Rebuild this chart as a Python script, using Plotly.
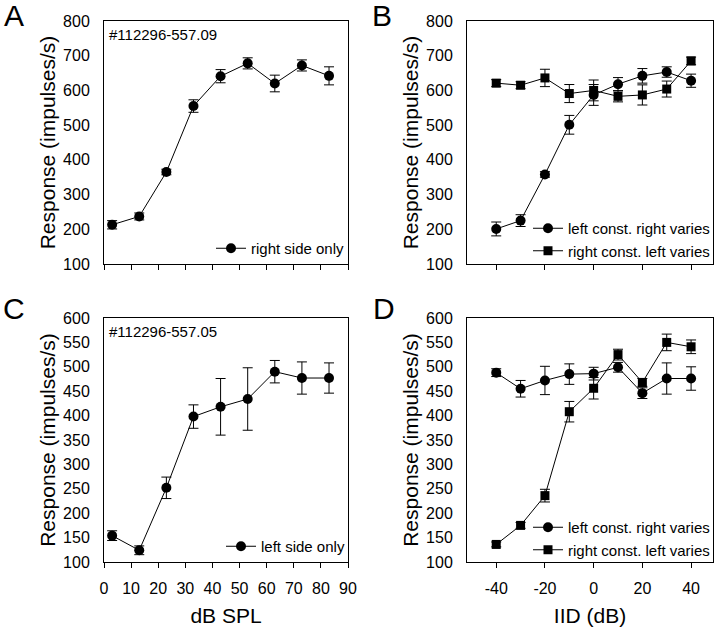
import plotly.graph_objects as go

# ---------------- data ----------------
spl = [3, 13, 23, 33, 43, 53, 63, 73, 83]
a_right_only = [213, 237, 365, 555, 641, 678, 620, 672, 642]
a_right_only_err = [12, 10, 8, 18, 19, 16, 24, 16, 26]

c_left_only = [154, 124, 252, 398, 418, 434, 490, 477, 477]
c_left_only_err = [10, 9, 22, 24, 58, 64, 23, 33, 31]

iid = [-40, -30, -20, -10, 0, 10, 20, 30, 40]
b_left_const = [201, 225, 358, 501, 587, 618, 642, 653, 628]
b_left_const_err = [20, 17, 8, 27, 30, 19, 21, 15, 19]
b_right_const = [621, 615, 636, 591, 600, 583, 587, 604, 685]
b_right_const_err = [10, 10, 25, 26, 30, 16, 29, 23, 11]

d_left_const = [488, 455, 472, 485, 486, 499, 446, 476, 476]
d_left_const_err = [8, 17, 29, 21, 13, 10, 11, 32, 24]
d_right_const = [136, 175, 236, 408, 456, 525, 468, 550, 541]
d_right_const_err = [5, 6, 13, 21, 22, 11, 8, 17, 14]

iid_ticks = [-40, -20, 0, 20, 40]
iid_ticktext = ["-40", "-20", "0", "20", "40"]

unit_a = "#112296-557.09"
unit_c = "#112296-557.05"
ytitle = "Response (impulses/s)"

# ---------------- figure ----------------
W, H = 720, 627
FONT = "Liberation Sans, Arial, sans-serif"

def px_x(p):
    return p / W

def px_y(p):
    return 1 - p / H

fig = go.Figure()

def add(x, y, err, name, symbol, xa, ya, legend):
    fig.add_trace(go.Scatter(
        x=x, y=y, name=name, mode="lines+markers",
        xaxis=xa, yaxis=ya, legend=legend,
        line=dict(color="black", width=1),
        marker=dict(symbol=symbol, size=10 if symbol == "circle" else 9, color="black"),
        error_y=dict(type="data", array=err, visible=True, color="black",
                     thickness=1, width=5),
    ))

add(spl, a_right_only, a_right_only_err, "right side only", "circle", "x", "y", "legend")
add(iid, b_left_const, b_left_const_err, "left const. right varies", "circle", "x2", "y2", "legend2")
add(iid, b_right_const, b_right_const_err, "right const. left varies", "square", "x2", "y2", "legend2")
add(spl, c_left_only, c_left_only_err, "left side only", "circle", "x3", "y3", "legend3")
add(iid, d_left_const, d_left_const_err, "left const. right varies", "circle", "x4", "y4", "legend4")
add(iid, d_right_const, d_right_const_err, "right const. left varies", "square", "x4", "y4", "legend4")

top_dom = [px_y(264), px_y(21)]
bot_dom = [px_y(562), px_y(318)]
left_dom = [px_x(104), px_x(348)]
right_dom = [px_x(467), px_x(713)]

def xaxis(dom, rng, anchor, labels, title=None, iidaxis=False):
    d = dict(domain=dom, range=rng, anchor=anchor, automargin=False,
             showline=True, mirror=True, linecolor="black", linewidth=1,
             ticks="outside", ticklen=5, tickcolor="black", tickwidth=1,
             showgrid=False, zeroline=False, showticklabels=labels,
             ticklabelstandoff=7,
             tickfont=dict(family=FONT, size=16, color="black"))
    if iidaxis:
        d.update(tickmode="array", tickvals=iid_ticks, ticktext=iid_ticktext)
    else:
        d.update(dtick=10, tick0=0)
    if title:
        d["title"] = dict(text=title, font=dict(family=FONT, size=21, color="black"), standoff=18)
    return d

def yaxis(dom, rng, dtick, anchor):
    return dict(domain=dom, range=rng, dtick=dtick, anchor=anchor, automargin=False,
                showline=True, mirror=True, linecolor="black", linewidth=1,
                ticks="", showgrid=False, zeroline=False,
                ticklabelstandoff=10,
                tickfont=dict(family=FONT, size=16, color="black"),
                title=dict(text=ytitle, font=dict(family=FONT, size=21, color="black"), standoff=1))

leg_common = dict(bgcolor="rgba(0,0,0,0)", borderwidth=0,
                  font=dict(family=FONT, size=15, color="black"),
                  xanchor="right", yanchor="bottom", tracegroupgap=0,
                  itemclick=False, itemdoubleclick=False)

fig.update_layout(
    width=W, height=H,
    margin=dict(l=0, r=0, t=0, b=0, autoexpand=False),
    paper_bgcolor="white", plot_bgcolor="white",
    font=dict(family=FONT, color="black"),
    showlegend=True,
    xaxis=xaxis(left_dom, [0, 90], "y", False),
    yaxis=yaxis(top_dom, [100, 800], 100, "x"),
    xaxis2=xaxis(right_dom, [-52, 49], "y2", False, iidaxis=True),
    yaxis2=yaxis(top_dom, [100, 800], 100, "x2"),
    xaxis3=xaxis(left_dom, [0, 90], "y3", True, "dB SPL"),
    yaxis3=yaxis(bot_dom, [100, 600], 50, "x3"),
    xaxis4=xaxis(right_dom, [-52, 49], "y4", True, "IID (dB)", iidaxis=True),
    yaxis4=yaxis(bot_dom, [100, 600], 50, "x4"),
    legend=dict(x=px_x(350), y=px_y(265), **leg_common),
    legend2=dict(x=px_x(715), y=px_y(267), **leg_common),
    legend3=dict(x=px_x(350), y=px_y(563), **leg_common),
    legend4=dict(x=px_x(715), y=px_y(566), **leg_common),
)

letters = [("A", 14, 16), ("B", 382, 16), ("C", 14, 308), ("D", 384, 308)]
for t, lx, ly in letters:
    fig.add_annotation(text=t, x=px_x(lx), y=px_y(ly), xref="paper", yref="paper",
                       showarrow=False, xanchor="center", yanchor="middle",
                       font=dict(family=FONT, size=30, color="black"))

fig.add_annotation(text=unit_a, x=0.0, y=1.0, xref="x domain", yref="y domain",
                   xanchor="left", yanchor="top", xshift=3, yshift=-3, showarrow=False,
                   font=dict(family=FONT, size=15, color="black"))
fig.add_annotation(text=unit_c, x=0.0, y=1.0, xref="x3 domain", yref="y3 domain",
                   xanchor="left", yanchor="top", xshift=3, yshift=-3, showarrow=False,
                   font=dict(family=FONT, size=15, color="black"))

fig.write_html("out.html", config={"displayModeBar": False},
               post_script="document.body.style.margin='0';document.body.style.overflow='hidden';")
